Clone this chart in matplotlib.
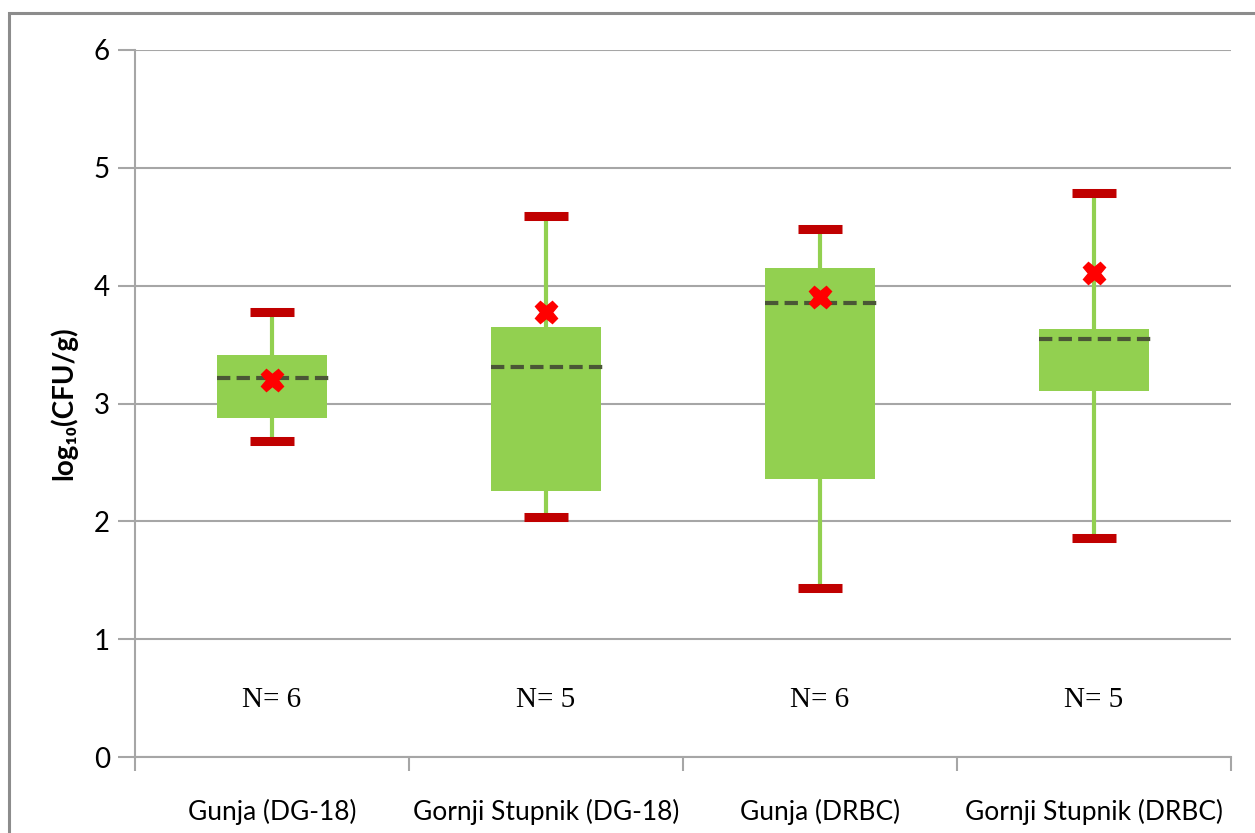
import matplotlib
matplotlib.use('Agg')
import matplotlib.pyplot as plt
from matplotlib.patches import Rectangle

# values, log10(CFU/g)
categories = ['Gunja (DG-18)', 'Gornji Stupnik (DG-18)', 'Gunja (DRBC)', 'Gornji Stupnik (DRBC)']
minimum = [2.68, 2.04, 1.43, 1.86]
q1 = [2.88, 2.26, 2.36, 3.11]
median = [3.22, 3.31, 3.85, 3.55]
q3 = [3.41, 3.65, 4.15, 3.63]
maximum = [3.78, 4.59, 4.48, 4.79]
mean = [3.20, 3.78, 3.90, 4.11]
n_samples = [6, 5, 6, 5]

GREEN = '#92d050'
RED = '#c00000'
GRID = '#a6a6a6'

plt.rcParams['font.family'] = ['Lato', 'DejaVu Sans']

fig = plt.figure(figsize=(12.55, 8.33), dpi=100)
ax = fig.add_axes([135 / 1255, 76 / 833, 1096 / 1255, 707 / 833])

x = list(range(len(categories)))

for i in x:
    # whiskers
    ax.vlines(i, minimum[i], q1[i], color=GREEN, lw=3, zorder=2)
    ax.vlines(i, q3[i], maximum[i], color=GREEN, lw=3, zorder=2)
    # caps
    ax.hlines([minimum[i], maximum[i]], i - 0.082, i + 0.082, color=RED, lw=6.5, zorder=4)

ax.bar(x, [b - a for a, b in zip(q1, q3)], bottom=q1, width=0.4, color=GREEN, zorder=3)
ax.hlines(median, [i - 0.2 for i in x], [i + 0.21 for i in x], color='#4a5636',
          lw=3, linestyles=(0, (3.2, 1.5)), zorder=5)
ax.plot(x, mean, linestyle='none', marker='X', markersize=16, color='#ff0000',
        markeredgecolor='#ff0000', zorder=6)

for i, n in zip(x, n_samples):
    ax.text(i, 0.48, f'N= {n}', ha='center', va='center', fontsize=21,
            family='Liberation Serif')

ax.set_xlim(-0.5, len(categories) - 0.5)
ax.set_ylim(0, 6)
ax.set_yticks(range(0, 7))
ax.yaxis.grid(True, color=GRID, lw=1.5)
ax.set_axisbelow(True)

ax.set_xticks([i - 0.5 for i in range(len(categories) + 1)], minor=False)
ax.set_xticklabels([''] * (len(categories) + 1))
ax.set_xticks(x, minor=True)
ax.set_xticklabels(categories, minor=True, fontsize=19)
ax.tick_params(axis='x', which='major', length=10, color=GRID, width=1.5)
ax.tick_params(axis='x', which='minor', length=0, pad=30)
ax.tick_params(axis='y', length=12, color=GRID, width=1.5, labelsize=20, pad=6)

for side in ['top', 'right']:
    ax.spines[side].set_visible(False)
for side in ['left', 'bottom']:
    ax.spines[side].set_color(GRID)
    ax.spines[side].set_linewidth(1.5)

ax.set_ylabel('log₁₀(CFU/g)', fontsize=20, fontweight='bold', labelpad=12)

# outer chart border, running off the right and bottom edges
fig.patches.append(Rectangle((9 / 1255, -0.1), 1.2, (833 - 13) / 833 + 0.1,
                             transform=fig.transFigure, fill=False,
                             edgecolor='#8c8c8c', lw=2.2))

fig.savefig('out.png', dpi=100)
